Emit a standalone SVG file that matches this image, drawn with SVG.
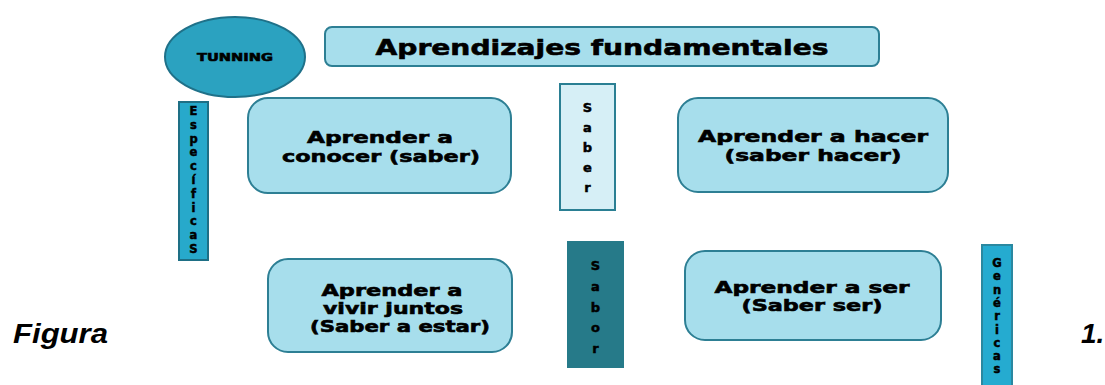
<svg xmlns="http://www.w3.org/2000/svg" width="1105" height="385" viewBox="0 0 1105 385">
<style>
.box{fill:#a7deec;stroke:#2d7f94;stroke-width:2}
.t{font-family:"DejaVu Sans","Liberation Sans",sans-serif;font-weight:bold;fill:#000;stroke:#000;stroke-width:0.6;text-anchor:middle}
.v{font-family:"DejaVu Sans","Liberation Sans",sans-serif;font-weight:bold;fill:#000;stroke:#000;stroke-width:0.5;text-anchor:middle}
.fig{font-family:"Liberation Sans",Arial,sans-serif;font-weight:bold;font-style:italic;font-size:28px;fill:#000}
</style>
<rect width="1105" height="385" fill="#fff"/>
<g id="tunning">
<ellipse cx="235" cy="57" rx="70" ry="40" fill="#2ba2c0" stroke="#1f7189" stroke-width="2"/>
<text class="t" x="235" y="61" font-size="11" textLength="76" lengthAdjust="spacingAndGlyphs">TUNNING</text>
</g>
<g id="titulo">
<rect class="box" x="325" y="27" width="554" height="39" rx="7"/>
<text class="t" x="602" y="55" font-size="22" textLength="453" lengthAdjust="spacingAndGlyphs">Aprendizajes fundamentales</text>
</g>
<g id="especificas">
<rect x="179" y="102" width="29" height="158" fill="#27a9cb" stroke="#1e6f85" stroke-width="2"/>
<text class="v" font-size="11.5"><tspan x="193.5" y="115">E</tspan><tspan x="193.5" dy="13.8">s</tspan><tspan x="193.5" dy="13.8">p</tspan><tspan x="193.5" dy="13.8">e</tspan><tspan x="193.5" dy="13.8">c</tspan><tspan x="193.5" dy="13.8">í</tspan><tspan x="193.5" dy="13.8">f</tspan><tspan x="193.5" dy="13.8">i</tspan><tspan x="193.5" dy="13.8">c</tspan><tspan x="193.5" dy="13.8">a</tspan><tspan x="193.5" dy="13.8">S</tspan></text>
</g>
<g id="conocer">
<rect class="box" x="248" y="98" width="263" height="95" rx="20"/>
<text class="t" font-size="16.5"><tspan x="380" y="143" textLength="146" lengthAdjust="spacingAndGlyphs">Aprender a</tspan><tspan x="381" y="162" textLength="198" lengthAdjust="spacingAndGlyphs">conocer (saber)</tspan></text>
</g>
<g id="saber">
<rect x="560" y="84" width="55" height="126" fill="#d6eff6" stroke="#2a7f93" stroke-width="2"/>
<text class="v" font-size="13"><tspan x="587.5" y="112">S</tspan><tspan x="587.5" dy="20">a</tspan><tspan x="587.5" dy="20">b</tspan><tspan x="587.5" dy="20">e</tspan><tspan x="587.5" dy="20">r</tspan></text>
</g>
<g id="hacer">
<rect class="box" x="678" y="98" width="270" height="94" rx="20"/>
<text class="t" font-size="16.5"><tspan x="813" y="142" textLength="230" lengthAdjust="spacingAndGlyphs">Aprender a hacer</tspan><tspan x="813" y="161" textLength="177" lengthAdjust="spacingAndGlyphs">(saber hacer)</tspan></text>
</g>
<g id="vivir">
<rect class="box" x="268" y="259" width="244" height="93" rx="20"/>
<text class="t" font-size="16"><tspan x="392" y="296" textLength="141" lengthAdjust="spacingAndGlyphs">Aprender a</tspan><tspan x="393" y="314" textLength="140" lengthAdjust="spacingAndGlyphs">vivir juntos</tspan><tspan x="400" y="332" textLength="180" lengthAdjust="spacingAndGlyphs">(Saber a estar)</tspan></text>
</g>
<g id="sabor">
<rect x="567" y="241" width="57" height="127" fill="#267a89"/>
<text class="v" font-size="13"><tspan x="595.5" y="270">S</tspan><tspan x="595.5" dy="20.8">a</tspan><tspan x="595.5" dy="20.8">b</tspan><tspan x="595.5" dy="20.8">o</tspan><tspan x="595.5" dy="20.8">r</tspan></text>
</g>
<g id="ser">
<rect class="box" x="685" y="251" width="256" height="89" rx="20"/>
<text class="t" font-size="16"><tspan x="812" y="293" textLength="195" lengthAdjust="spacingAndGlyphs">Aprender a ser</tspan><tspan x="812" y="311" textLength="141" lengthAdjust="spacingAndGlyphs">(Saber ser)</tspan></text>
</g>
<g id="genericas">
<rect x="982" y="245" width="30" height="145" fill="#25abd0" stroke="#2a88a0" stroke-width="2"/>
<text class="v" font-size="11.5"><tspan x="997" y="267">G</tspan><tspan x="997" dy="13.3">e</tspan><tspan x="997" dy="13.3">n</tspan><tspan x="997" dy="13.3">é</tspan><tspan x="997" dy="13.3">r</tspan><tspan x="997" dy="13.3">i</tspan><tspan x="997" dy="13.3">c</tspan><tspan x="997" dy="13.3">a</tspan><tspan x="997" dy="13.3">s</tspan></text>
</g>
<g id="connectors"></g>
<text class="fig" x="13" y="343" textLength="95" lengthAdjust="spacingAndGlyphs">Figura</text>
<text class="fig" x="1081" y="343">1.</text>
</svg>
